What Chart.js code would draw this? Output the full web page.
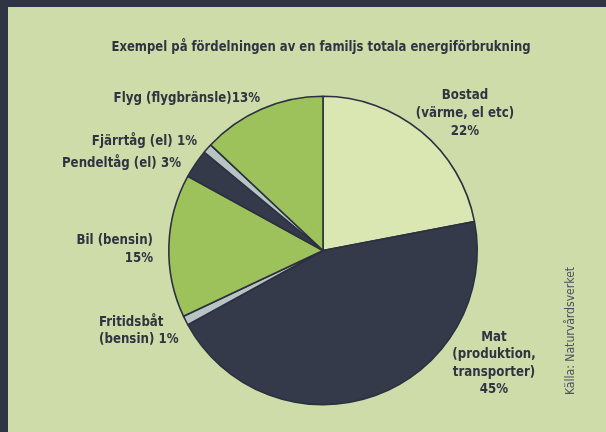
<!DOCTYPE html>
<html>
<head>
<meta charset="utf-8">
<script src="https://cdn.jsdelivr.net/npm/chart.js@4.4.1/dist/chart.umd.min.js"></script>
<style>
  html, body { margin: 0; padding: 0; background: #2f3545; }
  #wrap { width: 606px; height: 432px; position: relative; }
</style>
</head>
<body>
<div id="wrap"><canvas id="pie" width="606" height="432"></canvas></div>
<script>
/* Exempel på fördelningen av en familjs totala energiförbrukning */

const categories = ['Bostad', 'Mat', 'Fritidsbåt', 'Bil', 'Pendeltåg', 'Fjärrtåg', 'Flyg'];
const shares = [22, 45, 1, 15, 3, 1, 13];
const sliceColors = ['#dbe7b3', '#343a4a', '#b8c3c4', '#9dc25c', '#343a4a', '#b8c3c4', '#9dc25c'];

// label lines per slice, {v} = the share
const labelLines = [
  ['Bostad', '(värme, el etc)', '{v}'],
  ['Mat', '(produktion,', 'transporter)', '{v}'],
  ['Fritidsbåt', '(bensin) {v}'],
  ['Bil (bensin)', '{v}'],
  ['Pendeltåg (el) {v}'],
  ['Fjärrtåg (el) {v}'],
  ['Flyg (flygbränsle){v}']
];

const TITLE = 'Exempel på fördelningen av en familjs totala energiförbrukning';
const SOURCE = 'Källa: Naturvårdsverket';

const INK = '#2e3441';
const BG = '#cddca9';
const FONT = '"DejaVu Sans Condensed", "Liberation Sans Narrow", sans-serif';
const SQUEEZE = 0.94; // the print face is narrower than DejaVu Condensed

// where each label sits: x, y of first line, alignment, line height
const labelSpots = [
  { x: 465, y: 95,  align: 'center', lh: 18 },
  { x: 494, y: 337, align: 'center', lh: 17.5 },
  { x: 99,  y: 322, align: 'left',   lh: 17 },
  { x: 153, y: 240, align: 'right',  lh: 18 },
  { x: 181, y: 163, align: 'right',  lh: 17 },
  { x: 197, y: 141, align: 'right',  lh: 17 },
  { x: 260, y: 98,  align: 'right',  lh: 17 }
];

function squeezedText(ctx, txt, x, y, align, sx) {
  ctx.save();
  ctx.translate(x, y);
  ctx.scale(sx, 1);
  ctx.textAlign = align;
  ctx.fillText(txt, 0, 0);
  ctx.restore();
}

const framePlugin = {
  id: 'frame',
  beforeDraw(chart) {
    const { ctx, width, height } = chart;
    ctx.save();
    ctx.fillStyle = '#2f3545';
    ctx.fillRect(0, 0, width, height);
    ctx.fillStyle = BG;
    ctx.fillRect(8, 7, width - 8, height - 7);
    ctx.restore();
  }
};

const textPlugin = {
  id: 'texts',
  afterDraw(chart) {
    const { ctx } = chart;
    ctx.save();
    ctx.fillStyle = INK;
    ctx.textBaseline = 'middle';

    ctx.font = 'bold 14px ' + FONT;
    squeezedText(ctx, TITLE, 321, 47, 'center', 0.925);

    labelLines.forEach((lines, i) => {
      const s = labelSpots[i];
      lines.forEach((ln, k) => {
        squeezedText(ctx, ln.replace('{v}', shares[i] + '%'), s.x, s.y + k * s.lh, s.align, SQUEEZE);
      });
    });

    // source, written bottom-to-top
    ctx.translate(571, 331);
    ctx.rotate(-Math.PI / 2);
    ctx.font = '13px ' + FONT;
    ctx.fillStyle = '#4b5262';
    squeezedText(ctx, SOURCE, 0, 0, 'center', 0.93);
    ctx.restore();
  }
};

new Chart(document.getElementById('pie').getContext('2d'), {
  type: 'pie',
  data: {
    labels: categories,
    datasets: [{
      data: shares,
      backgroundColor: sliceColors,
      borderColor: '#2b3140',
      borderWidth: 1.6,
      hoverOffset: 0
    }]
  },
  options: {
    responsive: false,
    animation: false,
    layout: { padding: { left: 168, right: 128, top: 95, bottom: 26 } },
    plugins: {
      legend: { display: false },
      tooltip: { enabled: false },
      title: { display: false }
    }
  },
  plugins: [framePlugin, textPlugin]
});
</script>
</body>
</html>
